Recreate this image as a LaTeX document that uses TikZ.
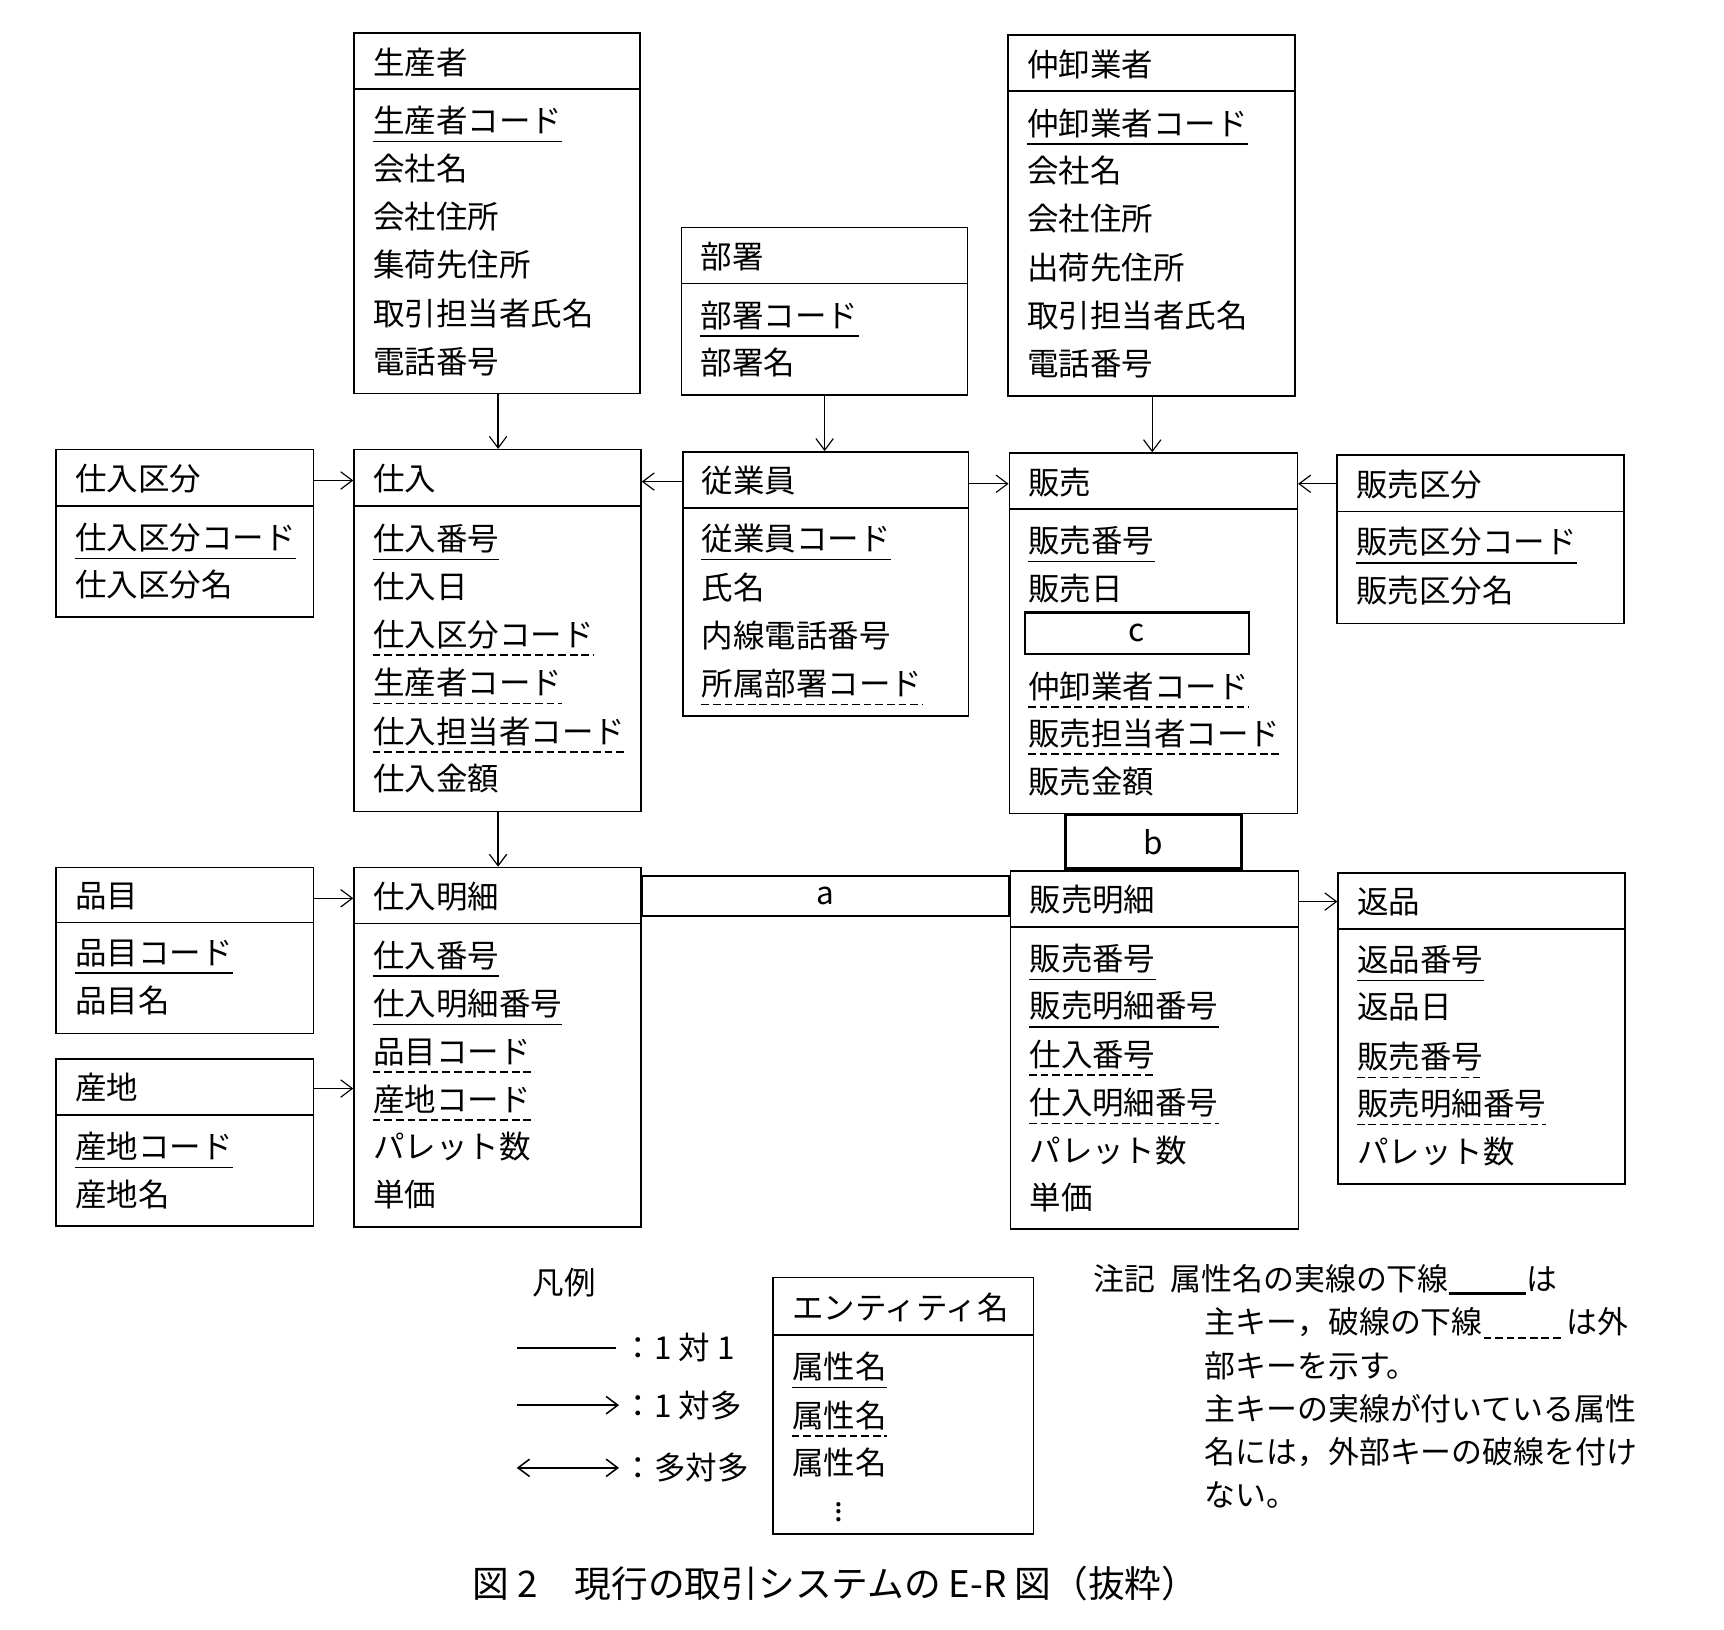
\documentclass[tikz,border=0pt]{standalone}
\usepackage{fontspec}
\setmainfont{Noto Sans CJK JP}
\usetikzlibrary{arrows.meta, fit, positioning}
\tikzset{
  entbox/.style = {draw, thick, inner sep=0pt},
  lbl/.style    = {anchor=west, inner sep=0pt, font=\fontsize{16.3}{20}\selectfont},
  rel/.style    = {-{Straight Barb[length=6pt,width=9pt]}, semithick},
  pk/.style     = {append after command={([yshift=-3pt]\tikzlastnode.south west) edge[thick] ([yshift=-3pt]\tikzlastnode.south east)}},
  fk/.style     = {append after command={([yshift=-3pt]\tikzlastnode.south west) edge[thick, dash pattern=on 4pt off 2pt] ([yshift=-3pt]\tikzlastnode.south east)}},
  plain/.style  = {}
}
% entity: id, x1, y1, x2, y2, header line, title
\newcommand{\entity}[7]{%
  \node[entbox, fit={(#2,#3)(#4,#5)}] (#1) {};
  \draw[thick] (#2,#6) -- (#4,#6);
  \node[lbl] (#1-t) at ({#2+17},{(#3+#6)/2+1}) {#7};
}
\begin{document}
\begin{tikzpicture}[x=0.02cm, y=-0.02cm]
  \useasboundingbox (0,0) rectangle (1568,1482);
  % entities
  \entity{seisan}{322}{30}{582}{358}{81}{生産者}
  \foreach \t/\y/\s in {生産者コード/110/pk, 会社名/153/plain, 会社住所/197/plain, 集荷先住所/241/plain, 取引担当者氏名/285/plain, 電話番号/329/plain}
    \node[lbl, \s] at (339,\y) {\t};
  \entity{busho}{620}{207}{880}{359}{258}{部署}
  \foreach \t/\y/\s in {部署コード/287/pk, 部署名/330/plain}
    \node[lbl, \s] at (637,\y) {\t};
  \entity{nakaoroshi}{917}{32}{1178}{360}{83}{仲卸業者}
  \foreach \t/\y/\s in {仲卸業者コード/112/pk, 会社名/155/plain, 会社住所/199/plain, 出荷先住所/243/plain, 取引担当者氏名/287/plain, 電話番号/331/plain}
    \node[lbl, \s] at (934,\y) {\t};
  \entity{shiirekubun}{51}{409}{285}{561}{460}{仕入区分}
  \foreach \t/\y/\s in {仕入区分コード/489/pk, 仕入区分名/532/plain}
    \node[lbl, \s] at (68,\y) {\t};
  \entity{shiire}{322}{409}{583}{738}{460}{仕入}
  \foreach \t/\y/\s in {仕入番号/490/pk, 仕入日/533/plain, 仕入区分コード/577/fk, 生産者コード/621/fk, 仕入担当者コード/665/fk, 仕入金額/708/plain}
    \node[lbl, \s] at (339,\y) {\t};
  \entity{jugyoin}{621}{411}{881}{651}{462}{従業員}
  \foreach \t/\y/\s in {従業員コード/490/pk, 氏名/534/plain, 内線電話番号/578/plain, 所属部署コード/622/fk}
    \node[lbl, \s] at (638,\y) {\t};
  \entity{hanbai}{918}{412}{1180}{740}{463}{販売}
  \foreach \t/\y/\s in {販売番号/492/pk, 販売日/535/plain, 仲卸業者コード/624/fk, 販売担当者コード/667/fk, 販売金額/711/plain}
    \node[lbl, \s] at (935,\y) {\t};
  \node[draw, very thick, fit={(932,557)(1136,595)}, inner sep=0pt] (c) {};
  \node[lbl, anchor=center] at (c) {c};
  \entity{hanbaikubun}{1216}{414}{1477}{567}{465}{販売区分}
  \foreach \t/\y/\s in {販売区分コード/493/pk, 販売区分名/537/plain}
    \node[lbl, \s] at (1233,\y) {\t};
  \entity{hinmoku}{51}{789}{285}{940}{839}{品目}
  \foreach \t/\y/\s in {品目コード/867/pk, 品目名/910/plain}
    \node[lbl, \s] at (68,\y) {\t};
  \entity{sanchi}{51}{963}{285}{1115}{1014}{産地}
  \foreach \t/\y/\s in {産地コード/1043/pk, 産地名/1086/plain}
    \node[lbl, \s] at (68,\y) {\t};
  \entity{shiiremeisai}{322}{789}{583}{1116}{840}{仕入明細}
  \foreach \t/\y/\s in {仕入番号/869/pk, 仕入明細番号/913/pk, 品目コード/957/fk, 産地コード/1000/fk, パレット数/1043/plain, 単価/1086/plain}
    \node[lbl, \s] at (339,\y) {\t};
  \entity{hanbaimeisai}{919}{792}{1181}{1118}{843}{販売明細}
  \foreach \t/\y/\s in {販売番号/872/pk, 販売明細番号/915/pk, 仕入番号/959/fk, 仕入明細番号/1003/fk, パレット数/1046/plain, 単価/1089/plain}
    \node[lbl, \s] at (936,\y) {\t};
  \entity{henpin}{1217}{794}{1478}{1077}{845}{返品}
  \foreach \t/\y/\s in {返品番号/873/pk, 返品日/916/plain, 販売番号/961/fk, 販売明細番号/1004/fk, パレット数/1047/plain}
    \node[lbl, \s] at (1234,\y) {\t};
  % blanks a, b
  \node[draw, very thick, fit={(584,797)(918,833)}, inner sep=0pt] (a) {};
  \node[lbl, anchor=center] at (a) {a};
  \node[draw, very thick, fit={(969,741)(1129,790)}, inner sep=0pt] (b) {};
  \node[lbl, anchor=center] at (b) {b};
  % relationships
  \draw[rel] (seisan.south -| 453,0) -- (shiire.north -| 453,0);
  \draw[rel] (busho.south -| 750,0) -- (jugyoin.north -| 750,0);
  \draw[rel] (nakaoroshi.south -| 1048,0) -- (hanbai.north -| 1048,0);
  \draw[rel] (shiirekubun.east |- 0,437) -- (shiire.west |- 0,437);
  \draw[rel] (jugyoin.west |- 0,438) -- (shiire.east |- 0,438);
  \draw[rel] (jugyoin.east |- 0,440) -- (hanbai.west |- 0,440);
  \draw[rel] (hanbaikubun.west |- 0,440) -- (hanbai.east |- 0,440);
  \draw[rel] (shiire.south -| 453,0) -- (shiiremeisai.north -| 453,0);
  \draw[rel] (hinmoku.east |- 0,817) -- (shiiremeisai.west |- 0,817);
  \draw[rel] (sanchi.east |- 0,990) -- (shiiremeisai.west |- 0,990);
  \draw[rel] (hanbaimeisai.east |- 0,820) -- (henpin.west |- 0,820);
  % legend
  \node[lbl] (hanrei) at (484,1167) {凡例};
  \coordinate (l1a) at (470,1226); \coordinate (l1b) at (560,1226);
  \coordinate (l2a) at (470,1278); \coordinate (l2b) at (563,1278);
  \coordinate (l3a) at (470,1335); \coordinate (l3b) at (563,1335);
  \draw[thick] (l1a) -- (l1b);
  \draw[rel, thick] (l2a) -- (l2b);
  \draw[rel, thick, {Straight Barb[length=6pt,width=9pt]}-{Straight Barb[length=6pt,width=9pt]}] (l3a) -- (l3b);
  \node[lbl] at (566,1226) {：1 対 1};
  \node[lbl] at (566,1278) {：1 対多};
  \node[lbl] at (566,1335) {：多対多};
  \entity{legend}{703}{1162}{940}{1395}{1214}{エンティティ名}
  \foreach \t/\y/\s in {属性名/1243/pk, 属性名/1287/fk, 属性名/1330/plain}
    \node[lbl, \s] at (720,\y) {\t};
  \node[lbl, anchor=center] (dots) at (763,1370) {\vdots};
  % note
  \node[lbl, anchor=north west, align=left,
        font=\fontsize{16}{22.3}\selectfont] (note) at (994,1150)
    {注記\enspace 属性名の実線の下線\rule[-2pt]{40pt}{1.4pt}は\\
     \hspace*{3.6em}主キー，破線の下線\tikz[baseline]\draw[thick, dash pattern=on 4pt off 2pt] (0,-2pt) -- (40pt,-2pt);\,は外\\
     \hspace*{3.6em}部キーを示す。\\
     \hspace*{3.6em}主キーの実線が付いている属性\\
     \hspace*{3.6em}名には，外部キーの破線を付け\\
     \hspace*{3.6em}ない。};
  \node[lbl, anchor=center, font=\fontsize{19}{22}\selectfont] (caption) at (760,1440)
    {図 2\quad 現行の取引システムの E-R 図（抜粋）};
\end{tikzpicture}
\end{document}
